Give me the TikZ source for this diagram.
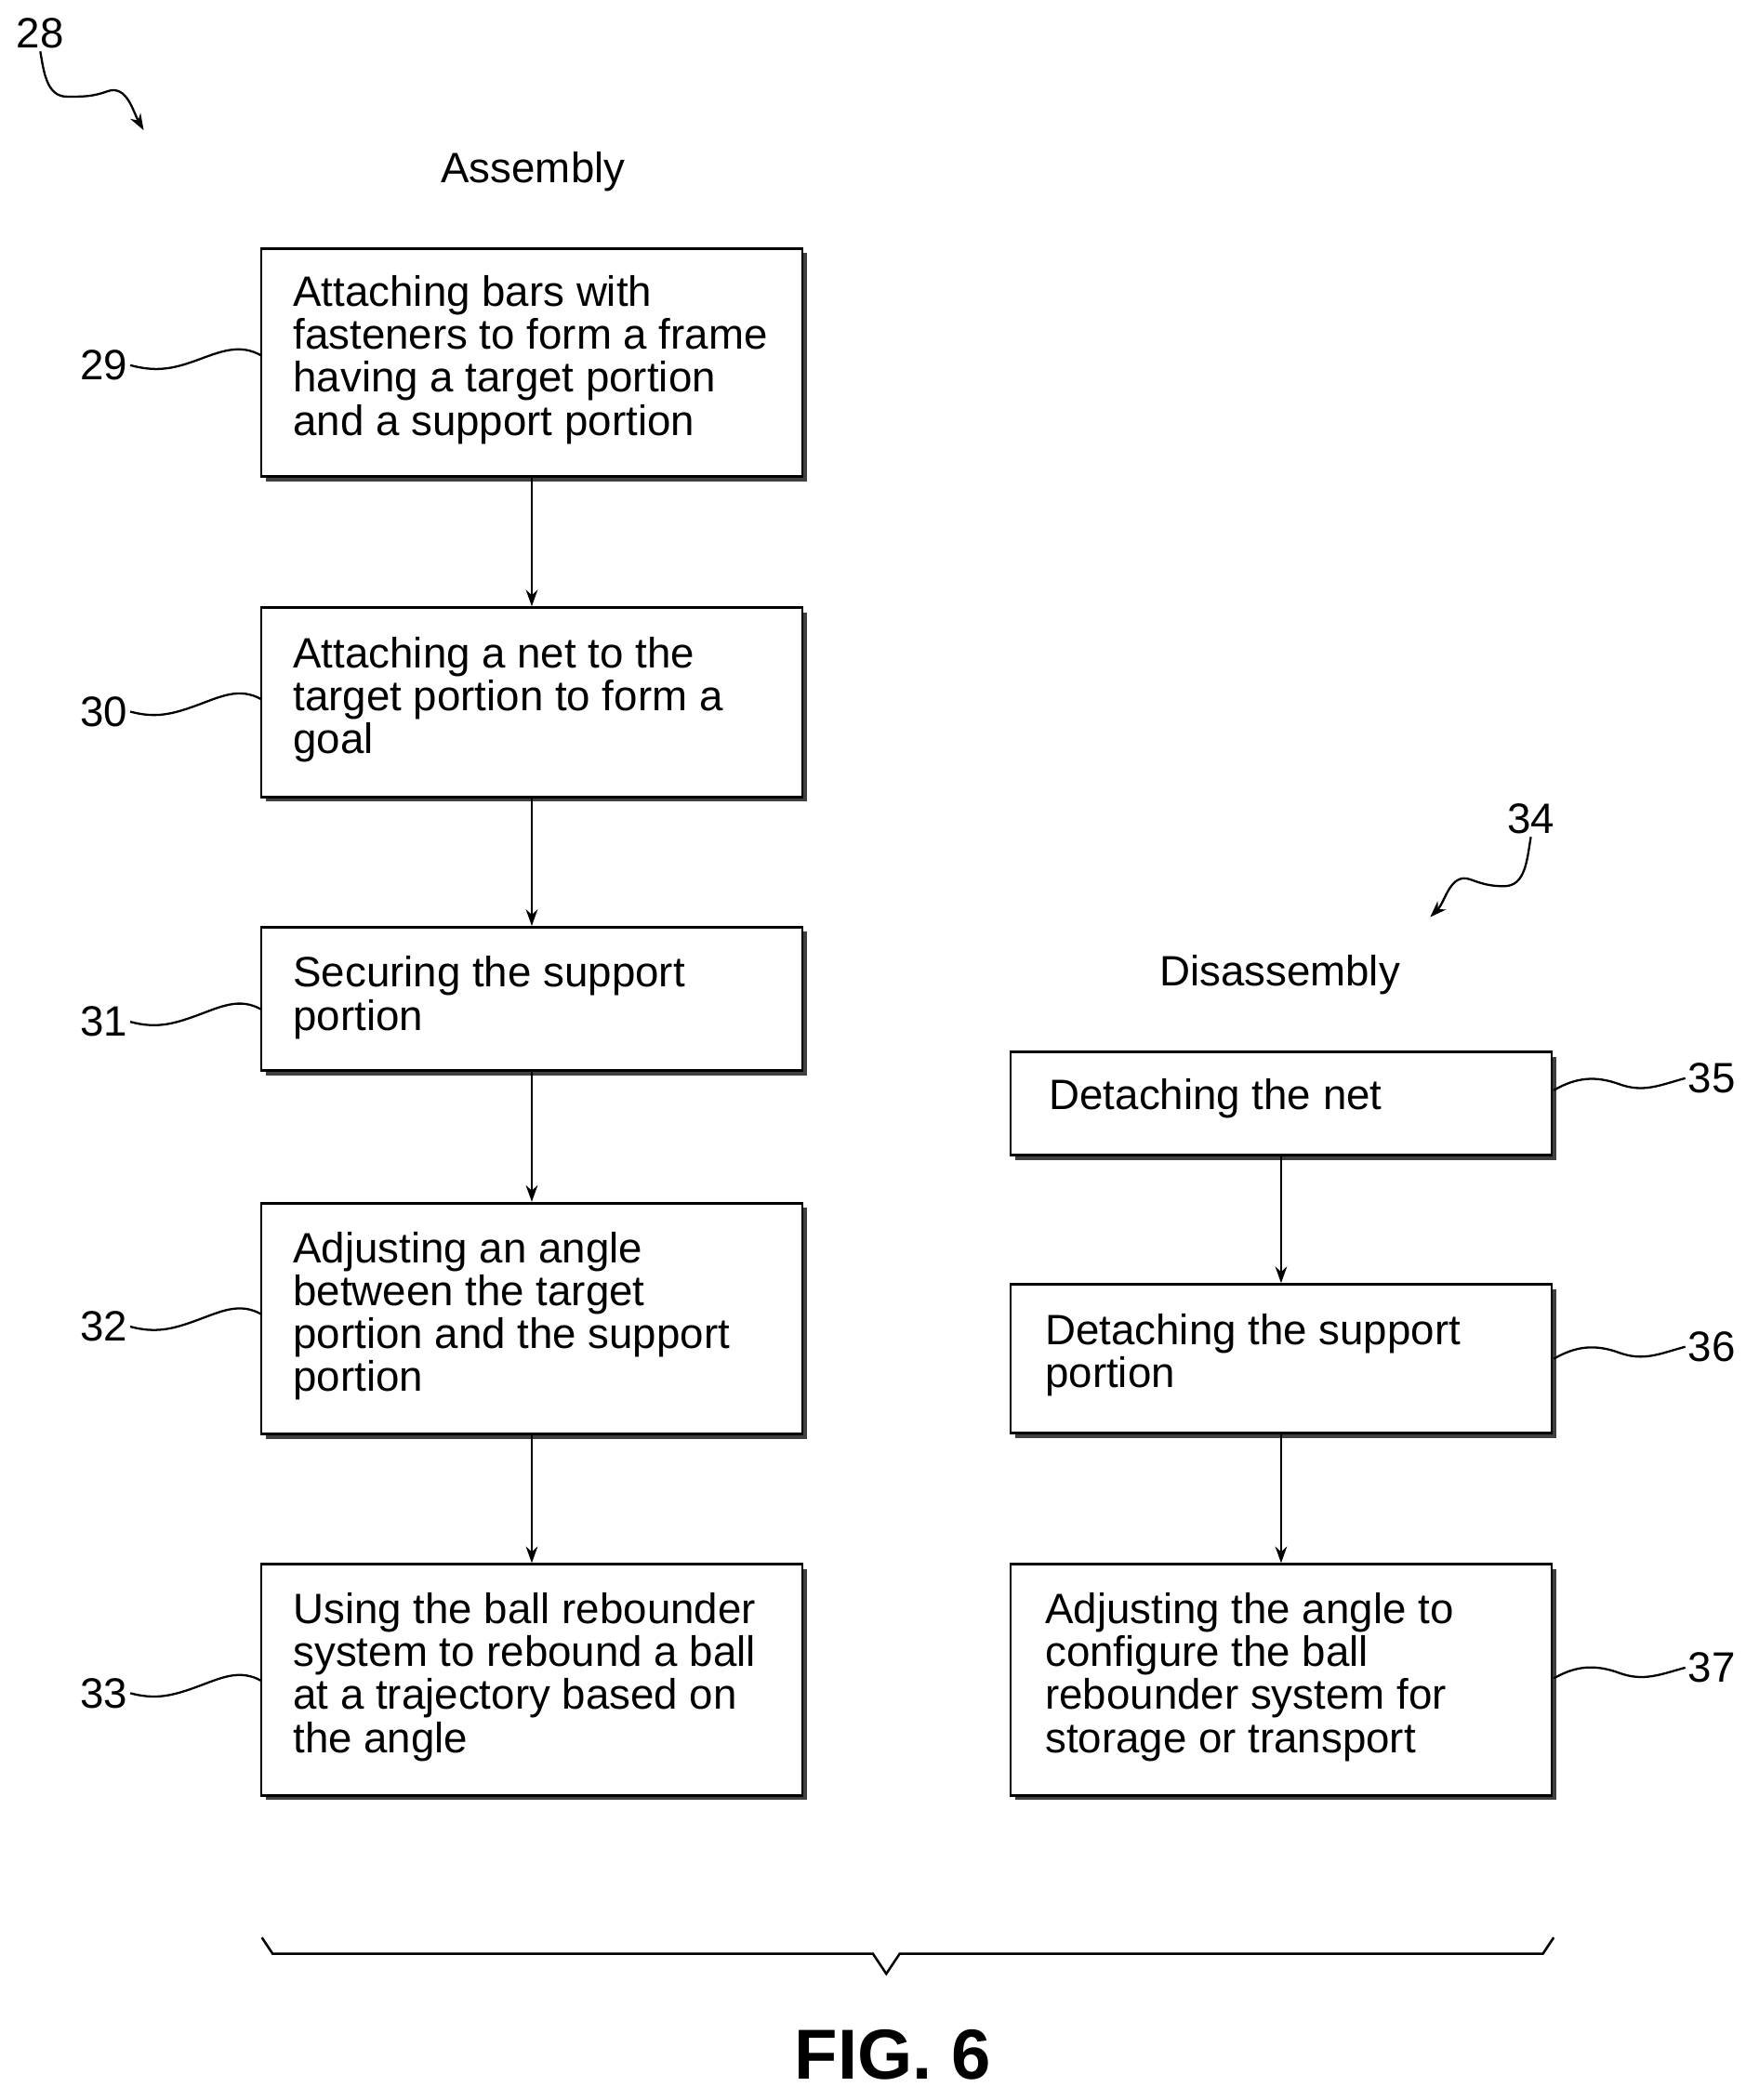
\documentclass[tikz,border=0pt]{standalone}
\usepackage{fontspec}
\setmainfont{Liberation Sans}
\usetikzlibrary{shadows,arrows.meta,decorations.pathreplacing,calc}
\begin{document}
\begin{tikzpicture}[x=0.02cm,y=-0.02cm,
  box/.style={draw,line width=1.1pt,fill=white,minimum width=8.06cm,
    drop shadow={shadow xshift=2pt,shadow yshift=-2pt,fill=black!75,opacity=1}},
  txt/.style={anchor=west,align=left,font=\fontsize{18}{18.2}\selectfont,inner sep=0},
  num/.style={font=\fontsize{18}{20}\selectfont,inner sep=1pt},
  lbl/.style={font=\fontsize{18}{20}\selectfont},
  sq/.style={line width=0.9pt},
  arr/.style={line width=0.9pt,-{Stealth[length=7pt,width=5pt]}}]
\useasboundingbox (0,0) rectangle (1300,1564);
% boxes
\node[box,minimum height=3.4cm] (b29) at (396,270) {};
\node[box,minimum height=2.82cm] (b30) at (396,523) {};
\node[box,minimum height=2.14cm] (b31) at (396,744) {};
\node[box,minimum height=3.44cm] (b32) at (396,982) {};
\node[box,minimum height=3.44cm] (b33) at (396,1251) {};
\node[box,minimum height=1.54cm] (b35) at (954,822) {};
\node[box,minimum height=2.22cm] (b36) at (954,1012) {};
\node[box,minimum height=3.44cm] (b37) at (954,1251) {};
% texts
\node[txt] (t29) at (218,268) {Attaching bars with\\fasteners to form a frame\\having a target portion\\and a support portion};
\node[txt] (t30) at (218,521) {Attaching a net to the\\target portion to form a\\goal};
\node[txt] (t31) at (218,743) {Securing the support\\portion};
\node[txt] (t32) at (218,980) {Adjusting an angle\\between the target\\portion and the support\\portion};
\node[txt] (t33) at (218,1249) {Using the ball rebounder\\system to rebound a ball\\at a trajectory based on\\the angle};
\node[txt] (t35) at (781,818) {Detaching the net};
\node[txt] (t36) at (778,1009) {Detaching the support\\portion};
\node[txt] (t37) at (778,1249) {Adjusting the angle to\\configure the ball\\rebounder system for\\storage or transport};
% arrows
\draw[arr] (b29) -- (b30);
\draw[arr] (b30) -- (b31);
\draw[arr] (b31) -- (b32);
\draw[arr] (b32) -- (b33);
\draw[arr] (b35) -- (b36);
\draw[arr] (b36) -- (b37);
% headings
\node[lbl] (asm) at (397,128) {Assembly};
\node[lbl] (dis) at (953,726) {Disassembly};
% reference numbers
\node[num,anchor=east] (n29) at (97,272) {29};
\node[num,anchor=east] (n30) at (97,530) {30};
\node[num,anchor=east] (n31) at (97,761) {31};
\node[num,anchor=east] (n32) at (97,988) {32};
\node[num,anchor=east] (n33) at (97,1261) {33};
\node[num,anchor=west] (n35) at (1255,803) {35};
\node[num,anchor=west] (n36) at (1255,1003) {36};
\node[num,anchor=west] (n37) at (1255,1242) {37};
\coordinate (c29) at (195,265);
\coordinate (c30) at (195,521);
\coordinate (c31) at (195,752);
\coordinate (c32) at (195,979);
\coordinate (c33) at (195,1252);
\coordinate (c35) at (1157,812);
\coordinate (c36) at (1157,1012);
\coordinate (c37) at (1157,1250);
\foreach \n in {29,30,31,32,33}{
  \draw[sq] (n\n.east) to[out=-15,in=200] ($(n\n.east)!0.5!(c\n)$) to[out=20,in=150] (c\n);
}
\foreach \n in {35,36,37}{
  \draw[sq] (c\n) to[out=30,in=160] ($(c\n)!0.5!(n\n.west)$) to[out=-20,in=195] (n\n.west);
}
% 28 and 34
\node[num] (n28) at (30,25) {28};
\coordinate (a28) at (107,97);
\draw[sq,-{Stealth[length=7pt,width=5pt]}] (n28.south) to[out=-80,in=180] (50,72) to[out=0,in=200] (80,68) to[out=20,in=120] (a28);
\node[num] (n34) at (1140,610) {34};
\coordinate (a34) at (1065,683);
\draw[sq,-{Stealth[length=7pt,width=5pt]}] (n34.south) to[out=-100,in=0] (1120,660) to[out=180,in=-20] (1095,655) to[out=160,in=45] (a34);
% brace
\coordinate (br1) at (195,1443);
\coordinate (br2) at (1157,1443);
\draw[line width=1pt] (br1) -- (203,1455) -- (650,1455) -- (660,1470) -- (670,1455) -- (1149,1455) -- (br2);
\node[font=\fontsize{30}{32}\selectfont\bfseries] (fig) at (665,1530) {FIG. 6};
\end{tikzpicture}
\end{document}
